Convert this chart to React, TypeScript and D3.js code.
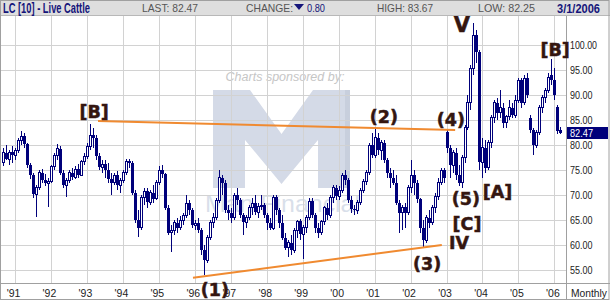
import React from 'react';
import * as d3 from 'd3';

// First candle: September 1990, monthly candles through March 2006
const START_YEAR = 1990;
const START_MONTH = 8;

// Monthly OHLC
const OPEN = [
  76.5, 78.5, 77.2, 78.6,
  78, 79, 81, 81.8, 80.2, 76, 74, 70.2, 71.5, 74.5, 73, 72.4,
  72.8, 75.8, 78, 79.3, 74.5, 72, 73, 74.5, 73.6, 75.2, 74, 76.8,
  77.8, 79.8, 82, 81.5, 77.8, 75.6, 76.2, 75, 73.2, 72.5, 74, 72,
  73, 74.5, 76.8, 76.5, 70.5, 65, 63.5, 69.5, 70.8, 68.6, 70.5, 69.3,
  72.5, 75, 74.2, 67.5, 62.5, 63, 64.5, 63.5, 65, 66, 68.4, 67,
  64, 64.4, 63, 59, 57, 61.6, 64.5, 65.6, 69, 73.5, 72.5, 67,
  66.5, 65.5, 70, 69, 66, 64.6, 65.5, 67.5, 68.4, 66.6, 67.8, 68,
  66, 64.5, 63.4, 69.6, 67, 64.5, 61.5, 59.5, 60.5, 59, 63, 64.8,
  62.2, 63.5, 65.6, 68.8, 66, 63.5, 62.5, 64.8, 67.5, 66, 69.5, 71.5,
  69.8, 71, 74, 73, 69, 67.2, 67, 68.5, 71, 72.8, 74.5, 80,
  78, 81.5, 79, 80.5, 77, 74.5, 73.5, 72.5, 68.5, 66.5, 67.6, 66.5,
  71.5, 74, 72.5, 69.2, 63.5, 61, 65.5, 64.5, 67.5, 69.8, 72.6, 75,
  82.6, 79.4, 76, 78.5, 74, 72.5, 77.5, 83.5, 88.5, 95.4, 102, 98.6,
  76.6, 79.5, 75.5, 80.5, 85.5, 88.5, 86.5, 87.5, 84.5, 85.8, 87.5, 86,
  89, 93, 88.5, 93.4, 85.5, 83, 80, 82.5, 87.5, 89.5, 91, 94,
  93, 87.6, 83,
];
const HIGH = [
  79.5, 80, 79, 79.8,
  79.5, 81.5, 82.8, 82.5, 80.5, 76.5, 74.5, 72, 75, 75.2, 74.2, 73.5,
  76, 78.5, 80.3, 79.8, 75, 73.5, 75, 75.5, 75.8, 76.2, 77, 78.5,
  80.5, 84.3, 83.5, 82, 78.5, 77, 77, 76.5, 74.5, 74.5, 74.8, 73.5,
  75, 77.2, 77.3, 76.8, 71, 67, 70, 71.5, 71.5, 71, 72, 73,
  75.8, 76, 74.5, 68, 64, 65, 65.5, 65.8, 66.5, 70, 69, 67.5,
  65, 65.5, 63.5, 60, 62, 65, 66.5, 69.5, 75, 74, 73, 68,
  67.5, 70.5, 71.5, 69.5, 66.5, 66, 68, 69.5, 70, 68.5, 70, 68.5,
  66.5, 65.5, 70, 70, 67.5, 66, 62.5, 61, 62, 63.5, 65, 65.3,
  64, 66, 69.5, 69.5, 66.5, 64.5, 65, 67.8, 68.5, 70, 72, 72,
  71.8, 74.5, 75, 73.5, 69.8, 68, 69, 71.5, 73.2, 75, 80.5, 82.5,
  83.2, 82.5, 81, 81, 77.5, 75.5, 75, 74, 69, 68, 68.5, 72,
  77, 75, 73, 69.5, 65, 66, 67, 68, 70.5, 73.5, 75.5, 75.5,
  83, 80, 79, 79.5, 76, 78, 84, 90, 96, 104.4, 103, 99,
  81.5, 81, 81, 86, 89, 89.5, 91, 88.5, 86, 89, 88.5, 90,
  93.5, 93.5, 94, 94.5, 86, 83.5, 83, 88, 90, 91.5, 94.5, 97.2,
  95.5, 88, 83.67,
];
const LOW = [
  75.8, 77, 76, 76.5,
  77, 78.5, 80, 79.5, 75.5, 73.2, 69.5, 65.6, 71, 72.5, 71.8, 67.6,
  72.5, 75, 77, 74, 71.5, 69.6, 72.5, 73, 73.2, 73.5, 73.8, 76,
  77.2, 79, 79.5, 77, 75, 74.5, 73.5, 72.5, 70, 72, 71, 70.5,
  72.5, 74, 75.5, 70, 64.5, 61.6, 63, 68, 67.5, 68, 68.5, 69,
  72, 73.5, 67, 62, 58.6, 62, 62.5, 63, 64, 65.5, 66, 63.5,
  63, 62.5, 58, 54, 56.5, 61, 63.5, 65, 68.5, 70, 66.5, 65,
  64.5, 65, 68, 65.5, 62, 63.5, 65, 66, 66, 65.5, 67, 65.5,
  63, 63, 63, 66, 63.5, 61, 59, 57.6, 58, 58.5, 61.5, 61,
  57.3, 62.5, 65, 65.5, 62.5, 61.5, 62, 64, 65, 65.5, 68.5, 69,
  69, 70.5, 72, 68.5, 66.5, 66, 66.2, 68, 70.5, 72, 74, 77.5,
  77.5, 78, 77, 76.5, 73.5, 71.5, 72, 68, 62.4, 63, 63.5, 66,
  70.5, 70, 68.5, 62.5, 59.6, 60.5, 63.5, 64, 66.5, 69, 72, 72.5,
  78.5, 73.5, 74.5, 73, 71.8, 71.4, 76.5, 83, 87, 94, 96.5, 75,
  73.4, 74.5, 75, 79.5, 84.5, 85, 85.5, 83.5, 83.5, 85, 85.5, 85.5,
  88.5, 87.5, 88, 89.5, 82.5, 78, 79.5, 82, 86.5, 88.5, 90.5, 92,
  89, 82.3, 82.25,
];
const CLOSE = [
  78.5, 77.2, 78.6, 78,
  79, 81, 81.8, 80.2, 76, 74, 70.2, 71.5, 74.5, 73, 72.4, 72.8,
  75.8, 78, 79.3, 74.5, 72, 73, 74.5, 73.6, 75.2, 74, 76.8, 77.8,
  79.8, 82, 81.5, 77.8, 75.6, 76.2, 75, 73.2, 72.5, 74, 72, 73,
  74.5, 76.8, 76.5, 70.5, 65, 63.5, 69.5, 70.8, 68.6, 70.5, 69.3, 72.5,
  75, 74.2, 67.5, 62.5, 63, 64.5, 63.5, 65, 66, 68.4, 67, 64,
  64.4, 63, 59, 57, 61.6, 64.5, 65.6, 69, 73.5, 72.5, 67, 66.5,
  65.5, 70, 69, 66, 64.6, 65.5, 67.5, 68.4, 66.6, 67.8, 68, 66,
  64.5, 63.4, 69.6, 67, 64.5, 61.5, 59.5, 60.5, 59, 63, 64.8, 62.2,
  63.5, 65.6, 68.8, 66, 63.5, 62.5, 64.8, 67.5, 66, 69.5, 71.5, 69.8,
  71, 74, 73, 69, 67.2, 67, 68.5, 71, 72.8, 74.5, 80, 78,
  81.5, 79, 80.5, 77, 74.5, 73.5, 72.5, 68.5, 66.5, 67.6, 66.5, 71.5,
  74, 72.5, 69.2, 63.5, 61, 65.5, 64.5, 67.5, 69.8, 72.6, 75, 73.5,
  79.4, 76, 78.5, 74, 72.5, 77.5, 83.5, 88.5, 95.4, 102, 98.6, 76.6,
  79.5, 75.5, 80.5, 85.5, 88.5, 86.5, 87.5, 84.5, 85.8, 87.5, 86, 89,
  93, 88.5, 93.4, 90, 83, 80, 82.5, 87.5, 89.5, 91, 93.5, 93,
  90, 82.8, 82.47,
];

const YEAR_TICKS = [1991, 1992, 1993, 1994, 1995, 1996, 1997, 1998, 1999, 2000, 2001, 2002, 2003, 2004, 2005, 2006];
const PRICE_TICKS = [55, 60, 65, 70, 75, 80, 85, 90, 95, 100];
const LAST_PRICE = 82.47;

const HEADER_TITLE = 'LC [10] - Live Cattle';
const HEADER_LAST = 'LAST: 82.47';
const HEADER_CHANGE = 'CHANGE:';
const HEADER_CHANGE_VAL = '0.80';
const HEADER_HIGH = 'HIGH: 83.67';
const HEADER_LOW = 'LOW: 82.25';
const HEADER_DATE = '3/1/2006';

// Wave labels anchored in (year, price)
const LABEL_TEXT = ['[B]', '(1)', '(2)', '(3)', '(4)', '(5)', 'V', '[A]', '[B]', '[C]', 'IV'];
const LABEL_TIME = [1993.2, 1996.56, 2001.26, 2002.46, 2003.12, 2003.54, 2003.43, 2004.42, 2006.02, 2003.57, 2003.35];
const LABEL_PRICE = [86.6, 51, 85.6, 56.2, 85, 69.2, 104, 70.6, 99, 64.2, 60.4];

// Trend lines: [t1, p1, t2, p2]
const UPPER_LINE = [1993.31, 84.8, 2003.24, 83.0];
const LOWER_LINE = [1995.95, 53.46, 2002.87, 60.0];

const W = 610;
const H = 300;
const AXIS_X = 566;
const PLOT_TOP = 15;
const PLOT_BOTTOM = 283;
const NAVY = '#00007a';
const GRID = '#d2d2d2';
const BROWN = '#341610';

export default function App() {
  const x = d3.scaleLinear().domain([1991, 2006]).range([15, 554.4]);
  const y = d3.scaleLinear().domain([55, 100]).range([270, 45]);

  const candles = CLOSE.map((c, i) => {
    const t = START_YEAR + (START_MONTH + i) / 12;
    return { t, o: OPEN[i], h: HIGH[i], l: LOW[i], c };
  });

  const lineGen = d3.line<[number, number]>().x(d => x(d[0])).y(d => y(d[1]));
  const upper = lineGen([[UPPER_LINE[0], UPPER_LINE[1]], [UPPER_LINE[2], UPPER_LINE[3]]]) || '';
  const lower = lineGen([[LOWER_LINE[0], LOWER_LINE[1]], [LOWER_LINE[2], LOWER_LINE[3]]]) || '';

  const font = 'Arial, "Liberation Sans", sans-serif';
  const annFont = '"DejaVu Sans", Verdana, sans-serif';

  return (
    <svg width={W} height={H} style={{ position: 'absolute', left: 0, top: 0, background: '#fff' }} fontFamily={font}>
      <rect x={0} y={0} width={W} height={H} fill="#fff" />
      {/* watermark */}
      <g>
        <text x={285} y={81} textAnchor="middle" fontSize={12.5} fontStyle="italic" fill="#c6c6c6">Charts sponsored by:</text>
        <path d="M213,90 L250,90 L281.5,134 L313,90 L350,90 L350,188 L318,188 L318,140 L281.5,184 L245,140 L245,188 L213,188 Z" fill="#d4dae7" />
        <path d="M345,90 L350,90 L350,188 L345,188 Z" fill="#c8cfdd" />
        <text x={205} y={212} fontSize={24} fill="#d9dfea" textLength={155} lengthAdjust="spacingAndGlyphs">Man Financial</text>
      </g>
      {/* grid */}
      <g shapeRendering="crispEdges">
        {YEAR_TICKS.map(yr => (
          <line key={'v' + yr} x1={Math.round(x(yr)) + 0.5} x2={Math.round(x(yr)) + 0.5} y1={PLOT_TOP} y2={PLOT_BOTTOM} stroke={GRID} />
        ))}
        {PRICE_TICKS.map(p => (
          <line key={'h' + p} x1={0} x2={AXIS_X} y1={Math.round(y(p)) + 0.5} y2={Math.round(y(p)) + 0.5} stroke={GRID} />
        ))}
      </g>
      {/* candles */}
      <g shapeRendering="crispEdges">
        {candles.map((d, i) => {
          const px = Math.round(x(d.t));
          const up = d.c >= d.o;
          const top = y(Math.max(d.o, d.c));
          const bot = y(Math.min(d.o, d.c));
          const hgt = Math.max(1, bot - top);
          return (
            <g key={i}>
              <line x1={px + 0.5} x2={px + 0.5} y1={y(d.h)} y2={y(d.l)} stroke={NAVY} />
              {up ? (
                <rect x={px - 0.5} y={top} width={2} height={hgt} fill="#fff" stroke={NAVY} />
              ) : (
                <rect x={px - 1} y={top} width={3} height={hgt} fill={NAVY} />
              )}
            </g>
          );
        })}
      </g>
      {/* trend lines */}
      <path d={upper} stroke="#f08a30" strokeWidth={2} fill="none" />
      <path d={lower} stroke="#f08a30" strokeWidth={2} fill="none" />
      {/* axes */}
      <g shapeRendering="crispEdges">
        <line x1={0} x2={W} y1={PLOT_BOTTOM + 0.5} y2={PLOT_BOTTOM + 0.5} stroke="#a0a0a0" />
        <line x1={AXIS_X + 0.5} x2={AXIS_X + 0.5} y1={PLOT_TOP} y2={H} stroke="#a0a0a0" />
      </g>
      {YEAR_TICKS.map(yr => (
        <text key={'xl' + yr} x={x(yr) - 1.5} y={297} textAnchor="middle" fontSize={10.5} fill="#222">
          {"'" + String(yr).slice(2)}
        </text>
      ))}
      <text x={571} y={297} fontSize={10.5} fill="#222" textLength={36} lengthAdjust="spacingAndGlyphs">Monthly</text>
      {PRICE_TICKS.map(p => (
        <text key={'yl' + p} x={570} y={y(p) + 4} fontSize={10.5} fill="#222" textLength={p >= 100 ? 27 : 22.5} lengthAdjust="spacingAndGlyphs">
          {p.toFixed(2)}
        </text>
      ))}
      <rect x={567} y={127} width={41} height={12} fill={NAVY} />
      <text x={570} y={137} fontSize={10.5} fill="#fff" textLength={23} lengthAdjust="spacingAndGlyphs">{LAST_PRICE.toFixed(2)}</text>
      {/* annotations */}
      {LABEL_TEXT.map((s, i) => (
        <text key={'a' + i} x={x(LABEL_TIME[i])} y={y(LABEL_PRICE[i])} textAnchor="middle" dominantBaseline="central"
          fontFamily={annFont} fontWeight="bold" fontSize={s === 'V' ? 21 : 17.5} fill={BROWN}
          stroke={BROWN} strokeWidth={0.5}>
          {s}
        </text>
      ))}
      {/* header */}
      <rect x={0} y={0} width={W} height={15} fill="#dedede" />
      <line x1={0} x2={W} y1={15.5} y2={15.5} stroke="#b8b8b8" shapeRendering="crispEdges" />
      <text x={3} y={13} fontSize={14} fontWeight="bold" fill="#15157a" textLength={87} lengthAdjust="spacingAndGlyphs">{HEADER_TITLE}</text>
      <text x={142} y={12} fontSize={10.5} fill="#555" textLength={56} lengthAdjust="spacingAndGlyphs">{HEADER_LAST}</text>
      <text x={246} y={12} fontSize={10.5} fill="#555" textLength={47} lengthAdjust="spacingAndGlyphs">{HEADER_CHANGE}</text>
      <path d="M294,4 L304,4 L299,10 Z" fill="#15157a" />
      <text x={307} y={12} fontSize={10.5} fill="#15157a" textLength={18} lengthAdjust="spacingAndGlyphs">{HEADER_CHANGE_VAL}</text>
      <text x={377} y={12} fontSize={10.5} fill="#555" textLength={56} lengthAdjust="spacingAndGlyphs">{HEADER_HIGH}</text>
      <text x={478} y={12} fontSize={10.5} fill="#555" textLength={57} lengthAdjust="spacingAndGlyphs">{HEADER_LOW}</text>
      <text x={557} y={13} fontSize={13} fontWeight="bold" fill="#15157a" textLength={43} lengthAdjust="spacingAndGlyphs">{HEADER_DATE}</text>
      <rect x={0.5} y={0.5} width={W - 1.5} height={H - 1} fill="none" stroke="#a0a0a0" />
    </svg>
  );
}
